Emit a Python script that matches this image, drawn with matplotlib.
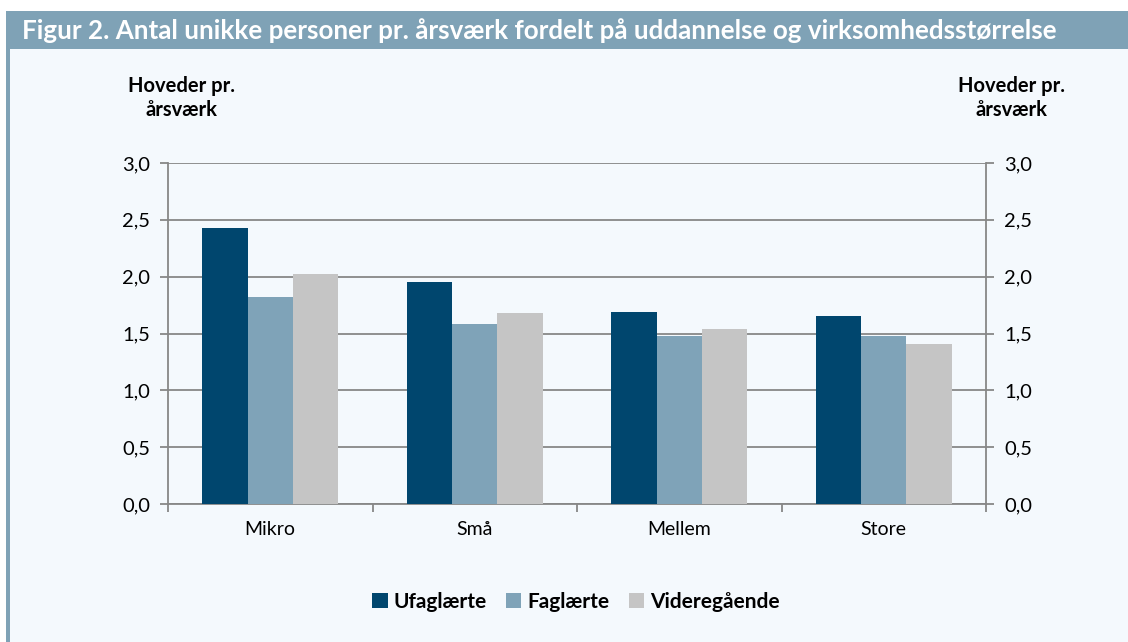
import numpy as np
import matplotlib
matplotlib.use("Agg")
import matplotlib.pyplot as plt
from matplotlib.patches import Rectangle

plt.rcParams['font.family'] = ['Lato', 'DejaVu Sans']

# data
categories = ['Mikro', 'Små', 'Mellem', 'Store']
series = ['Ufaglærte', 'Faglærte', 'Videregående']
ufaglaerte = [2.43, 1.95, 1.69, 1.65]
faglaerte = [1.82, 1.58, 1.48, 1.48]
videregaaende = [2.02, 1.68, 1.54, 1.41]
yticks = [0.0, 0.5, 1.0, 1.5, 2.0, 2.5, 3.0]

colors = ['#00466e', '#7fa3b8', '#c5c5c5']
bg = '#f4f9fd'
bar_col = '#7fa2b6'
grid_col = '#878787'

W, H = 1128, 642
fig = plt.figure(figsize=(W / 100, H / 100), dpi=100)
fig.patch.set_facecolor('white')

# background panel, title bar and left border
fig.patches.append(Rectangle((6 / W, 0), 1 - 6 / W, 1 - 49 / H, transform=fig.transFigure,
                             facecolor=bg, edgecolor='none', zorder=-2))
fig.patches.append(Rectangle((6 / W, 1 - 49 / H), 1 - 6 / W, 38 / H, transform=fig.transFigure,
                             facecolor=bar_col, edgecolor='none', zorder=-1))
fig.patches.append(Rectangle((6 / W, 0), 4 / W, 1 - 49 / H, transform=fig.transFigure,
                             facecolor=bar_col, edgecolor='none', zorder=-1))
fig.text(22 / W, 1 - 31 / H, 'Figur 2. Antal unikke personer pr. årsværk fordelt på uddannelse og virksomhedsstørrelse',
         color='white', fontsize=18.7, fontweight='bold', va='center', ha='left')

# axes
left, right, top, bottom = 168, 986, 163, 504
ax = fig.add_axes([left / W, 1 - bottom / H, (right - left) / W, (bottom - top) / H])
ax.set_facecolor(bg)

x = np.arange(len(categories))
bw = 0.222
for i, vals in enumerate([ufaglaerte, faglaerte, videregaaende]):
    ax.bar(x + (i - 1) * bw, vals, bw, color=colors[i], label=series[i], zorder=3)

ax.set_xlim(-0.5, len(categories) - 0.5)
ax.set_ylim(0, 3.0)
ax.set_yticks(yticks)
ax.set_yticklabels([f'{v:.1f}'.replace('.', ',') for v in yticks])
ax.yaxis.grid(True, color=grid_col, linewidth=1.3, zorder=0)
ax.set_axisbelow(True)

ax.set_xticks(x)
ax.set_xticklabels(categories)
ax.set_xticks(np.arange(-0.5, len(categories)), minor=True)
ax.tick_params(axis='x', which='major', length=0, pad=12, labelsize=14)
ax.tick_params(axis='x', which='minor', length=6, width=1.3, color=grid_col, direction='out')
ax.tick_params(axis='y', length=6, width=1.3, color=grid_col, direction='out', pad=7, labelsize=14.5,
               left=True, right=True, labelleft=True, labelright=True)

ax.spines['top'].set_visible(False)
for s in ['left', 'right', 'bottom']:
    ax.spines[s].set_color(grid_col)
    ax.spines[s].set_linewidth(1.3)

fig.text(182 / W, 1 - 98 / H, 'Hoveder pr.\nårsværk', ha='center', va='center',
         fontsize=14.5, fontweight='bold', linespacing=1.3)
fig.text(1012 / W, 1 - 98 / H, 'Hoveder pr.\nårsværk', ha='center', va='center',
         fontsize=14.5, fontweight='bold', linespacing=1.3)

fig.legend(loc='center', bbox_to_anchor=(576 / W, 1 - 602 / H), ncol=3, frameon=False,
           prop={'weight': 'bold', 'size': 15}, handlelength=0.75, handleheight=0.75,
           handletextpad=0.3, columnspacing=0.9)

fig.savefig('out.png', dpi=100, facecolor=fig.get_facecolor())
